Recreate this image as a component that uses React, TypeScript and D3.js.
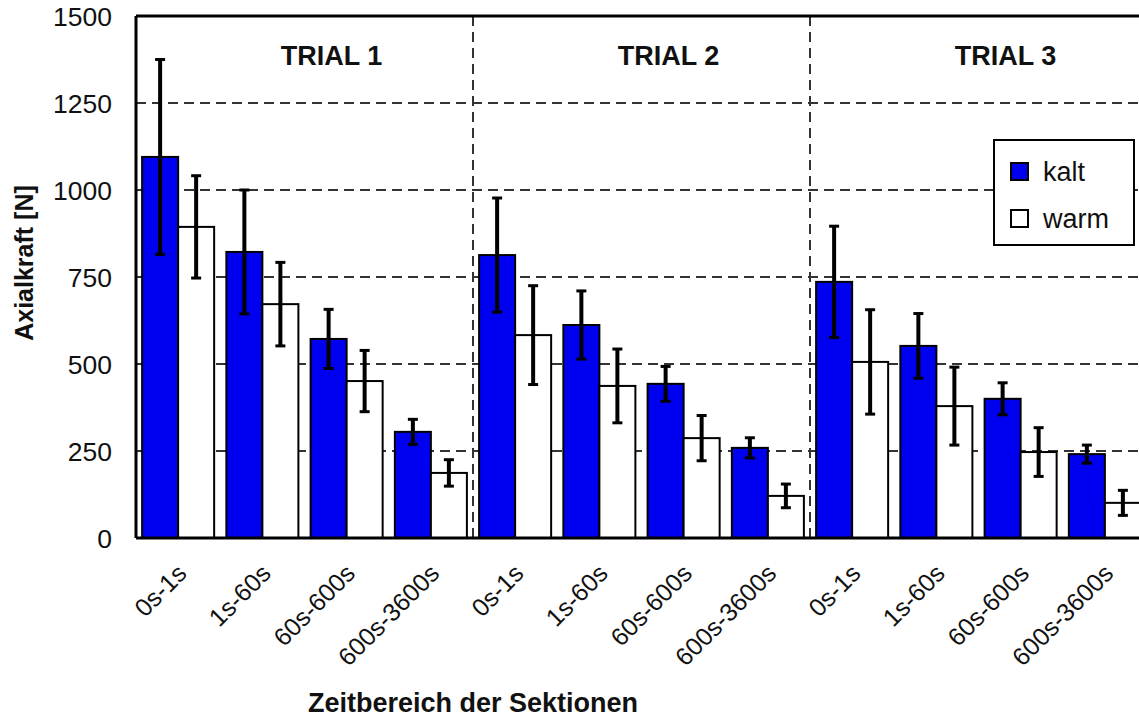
import React from "react";
import * as d3 from "d3";

// values (N), order: trial 1..3, each 0s-1s,1s-60s,60s-600s,600s-3600s
const trials = ["TRIAL 1", "TRIAL 2", "TRIAL 3"];
const periods = ["0s-1s", "1s-60s", "60s-600s", "600s-3600s"];
const series = ["kalt", "warm"];
const kaltMean = [1095, 822, 572, 305, 813, 612, 443, 259, 736, 552, 400, 241];
const kaltErr = [280, 178, 85, 36, 164, 98, 50, 29, 160, 93, 46, 26];
const warmMean = [894, 672, 451, 187, 583, 437, 287, 121, 506, 379, 247, 101];
const warmErr = [147, 120, 88, 38, 142, 106, 65, 34, 150, 112, 70, 36];
const yTicks = [0, 250, 500, 750, 1000, 1250, 1500];

const W = 1139;
const H = 719;
const FONT = "'Liberation Sans', Arial, sans-serif";
const BLUE = "#0000f0";

const App = () => {
  const left = 136;
  const right = 1147; // plot is cut off at the right edge of the picture
  const top = 16;
  const bottom = 538;

  const y = d3.scaleLinear().domain([0, 1500]).range([bottom, top]);
  const x0 = d3.scaleBand().domain(trials).range([left, right]);
  const x1 = d3
    .scaleBand()
    .domain(periods)
    .range([0, x0.bandwidth()])
    .paddingInner(0.145)
    .paddingOuter(0.0725);
  const x2 = d3.scaleBand().domain(series).range([0, x1.bandwidth()]);

  const rows = [];
  trials.forEach((t, ti) => {
    periods.forEach((p, pi) => {
      const i = ti * periods.length + pi;
      rows.push({ t, p, s: "kalt", v: kaltMean[i], e: kaltErr[i] });
      rows.push({ t, p, s: "warm", v: warmMean[i], e: warmErr[i] });
    });
  });
  const bx = (d) => x0(d.t) + x1(d.p) + x2(d.s);

  return (
    <svg
      width={W}
      height={H}
      style={{ position: "absolute", left: 0, top: 0, background: "#fff" }}
      fontFamily={FONT}
    >
      {/* horizontal dashed grid */}
      {yTicks.slice(1, -1).map((t) => (
        <line
          key={"g" + t}
          x1={left}
          x2={W}
          y1={y(t)}
          y2={y(t)}
          stroke="#333"
          strokeWidth={2}
          strokeDasharray="10,6"
        />
      ))}
      {/* trial separators */}
      {trials.slice(1).map((t) => (
        <line
          key={"v" + t}
          x1={x0(t)}
          x2={x0(t)}
          y1={top}
          y2={bottom}
          stroke="#333"
          strokeWidth={2}
          strokeDasharray="10,6"
        />
      ))}

      {/* bars */}
      {rows.map((d, i) => (
        <rect
          key={"b" + i}
          x={bx(d)}
          y={y(d.v)}
          width={x2.bandwidth()}
          height={bottom - y(d.v)}
          fill={d.s === "kalt" ? BLUE : "#fff"}
          stroke="#000"
          strokeWidth={2}
        />
      ))}

      {/* error bars */}
      {rows.map((d, i) => {
        const cx = bx(d) + x2.bandwidth() / 2;
        return (
          <g key={"e" + i} stroke="#000">
            <line x1={cx} x2={cx} y1={y(d.v + d.e)} y2={y(d.v - d.e)} strokeWidth={4} />
            <line x1={cx - 5} x2={cx + 5} y1={y(d.v + d.e)} y2={y(d.v + d.e)} strokeWidth={3} />
            <line x1={cx - 5} x2={cx + 5} y1={y(d.v - d.e)} y2={y(d.v - d.e)} strokeWidth={3} />
          </g>
        );
      })}

      {/* frame */}
      <line x1={left} x2={W} y1={top} y2={top} stroke="#000" strokeWidth={3} />
      <line x1={left} x2={left} y1={top} y2={bottom} stroke="#000" strokeWidth={3} />
      <line x1={left} x2={W} y1={bottom} y2={bottom} stroke="#000" strokeWidth={3} />

      {/* y tick labels */}
      {yTicks.map((t) => (
        <text key={"t" + t} x={112} y={y(t)} dy="0.36em" textAnchor="end" fontSize={26.5} fill="#111">
          {t}
        </text>
      ))}

      {/* trial titles */}
      {trials.map((t) => (
        <text
          key={"tt" + t}
          x={x0(t) + x0.bandwidth() / 2 + 27}
          y={65}
          textAnchor="middle"
          fontSize={27}
          fontWeight="bold"
          fill="#111"
        >
          {t}
        </text>
      ))}

      {/* x labels */}
      {trials.map((t) =>
        periods.map((p) => {
          const ax = x0(t) + x1(p) + x1.bandwidth() / 2 + 10;
          const ay = 575;
          return (
            <text
              key={t + p}
              x={ax}
              y={ay}
              textAnchor="end"
              fontSize={25}
              fill="#111"
              transform={`rotate(-45,${ax},${ay})`}
            >
              {p}
            </text>
          );
        })
      )}

      {/* axis titles */}
      <text x={473} y={712} textAnchor="middle" fontSize={27} fontWeight="bold" fill="#111">
        Zeitbereich der Sektionen
      </text>
      <text
        x={0}
        y={0}
        textAnchor="middle"
        fontSize={25}
        fontWeight="bold"
        fill="#111"
        transform={`translate(33,263) rotate(-90)`}
      >
        Axialkraft [N]
      </text>

      {/* legend */}
      <g>
        <rect x={994} y={140} width={140} height={105} fill="#fff" stroke="#000" strokeWidth={2} />
        {series.map((s, i) => (
          <g key={"l" + s} transform={`translate(1011,${163 + i * 47})`}>
            <rect width={17} height={17} fill={s === "kalt" ? BLUE : "#fff"} stroke="#000" strokeWidth={2} />
            <text x={32} y={8.5} dy="0.36em" fontSize={27} fill="#111">
              {s}
            </text>
          </g>
        ))}
      </g>
    </svg>
  );
};

export default App;
